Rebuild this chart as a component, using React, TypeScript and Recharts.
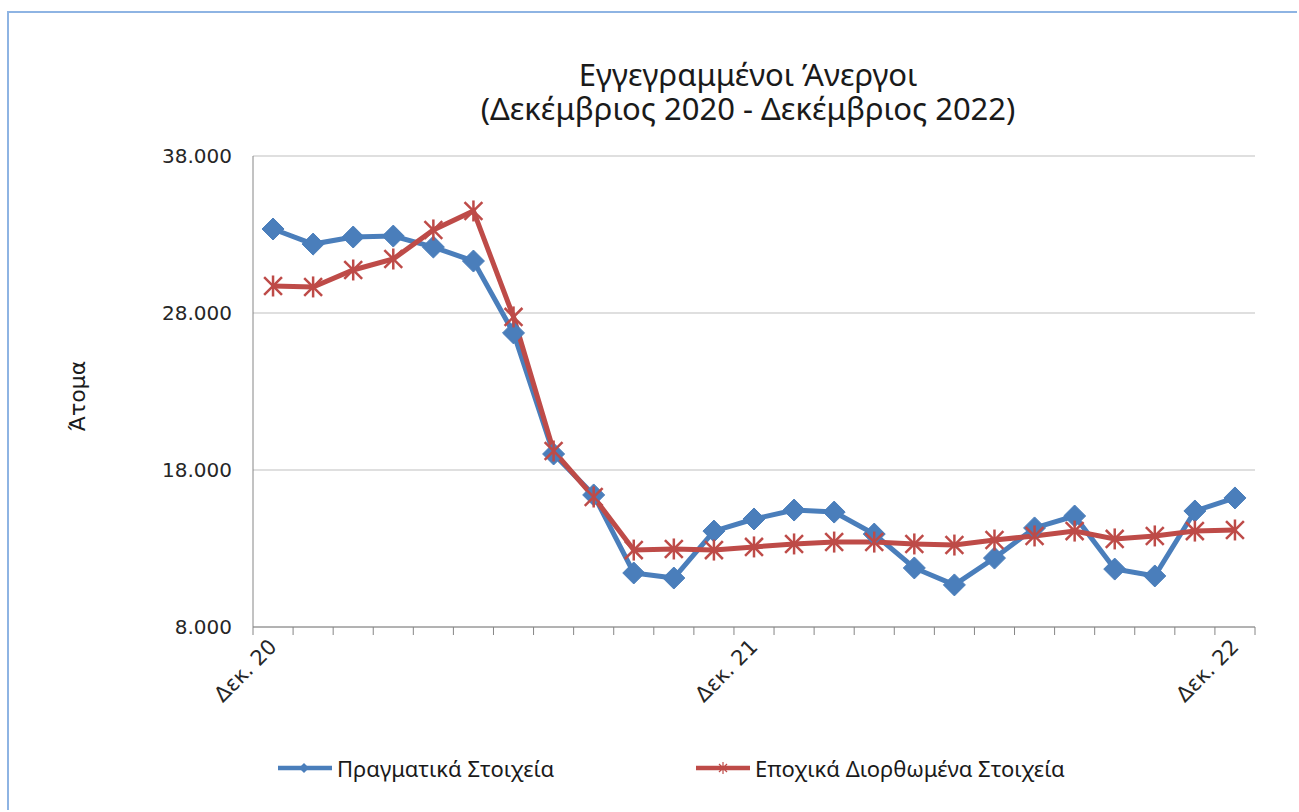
import React from 'react'
import { LineChart, Line, XAxis, YAxis, CartesianGrid } from 'recharts'

const months = [
  'Δεκ. 20', 'Ιαν. 21', 'Φεβ. 21', 'Μαρ. 21', 'Απρ. 21', 'Μαΐ. 21', 'Ιουν. 21',
  'Ιουλ. 21', 'Αυγ. 21', 'Σεπ. 21', 'Οκτ. 21', 'Νοε. 21', 'Δεκ. 21', 'Ιαν. 22',
  'Φεβ. 22', 'Μαρ. 22', 'Απρ. 22', 'Μαΐ. 22', 'Ιουν. 22', 'Ιουλ. 22', 'Αυγ. 22',
  'Σεπ. 22', 'Οκτ. 22', 'Νοε. 22', 'Δεκ. 22',
]

const actual = [
  33350, 32390, 32840, 32900, 32200, 31310, 26730, 19020, 16410, 11440, 11120, 14110,
  14880, 15450, 15320, 13920, 11760, 10680, 12390, 14310, 15070, 11690, 11250, 15390,
  16220,
]

const seasonal = [
  29720, 29660, 30740, 31440, 33290, 34500, 27750, 19210, 16280, 12900, 12970, 12900,
  13100, 13290, 13410, 13410, 13290, 13220, 13540, 13800, 14110, 13610, 13800, 14110,
  14180,
]

const yTicks = [8000, 18000, 28000, 38000]
const labelEvery = 12

const BLUE = '#4A7EBB'
const RED = '#BE4B48'
const TICK_FONT = '"DejaVu Sans", Verdana, sans-serif'
const TEXT_FONT = '"Noto Sans", "Open Sans", sans-serif'

const data = months.map((m, i) => ({
  pos: i + 0.5,
  month: m,
  actual: actual[i],
  seasonal: seasonal[i],
}))

// tick marks sit on category borders, labels on the category centres
const boundaryTicks = months.map((_, i) => i).concat([months.length])
const labelTicks = months.map((_, i) => i).filter(i => i % labelEvery === 0).map(i => i + 0.5)
const xTicks = [...boundaryTicks, ...labelTicks].sort((a, b) => a - b)

const fmt = (v: number) => String(v).replace(/\B(?=(\d{3})+(?!\d))/g, '.')

const XTick = (props: any) => {
  const { x, y, payload } = props
  const v = payload.value
  if (Number.isInteger(v)) {
    return <line x1={x} x2={x} y1={y} y2={y + 8} stroke="#868686" strokeWidth={1} />
  }
  const label = months[Math.round(v - 0.5)]
  return (
    <text
      transform={`translate(${x + 5},${y + 21}) rotate(-45)`}
      textAnchor="end"
      fontFamily={TICK_FONT}
      fontSize={21}
      fill="#262626"
    >
      {label}
    </text>
  )
}

const Diamond = (props: any) => {
  const { cx, cy } = props
  if (cx == null || cy == null) return null
  const r = 11
  return <path d={`M${cx},${cy - r}L${cx + r},${cy}L${cx},${cy + r}L${cx - r},${cy}Z`} fill={BLUE} stroke={BLUE} strokeWidth={1} />
}

const Star = (props: any) => {
  const { cx, cy } = props
  if (cx == null || cy == null) return null
  const r = 10.5
  const d = r * 0.85
  return (
    <g stroke={RED} strokeWidth={2.5} fill="none">
      <line x1={cx} y1={cy - r} x2={cx} y2={cy + r} />
      <line x1={cx - d} y1={cy - d} x2={cx + d} y2={cy + d} />
      <line x1={cx - d} y1={cy + d} x2={cx + d} y2={cy - d} />
    </g>
  )
}

const LegendItem = ({ color, label, marker }: { color: string; label: string; marker: 'diamond' | 'star' }) => (
  <div style={{ display: 'flex', alignItems: 'center' }}>
    <svg width={56} height={20} style={{ marginRight: 4 }}>
      <line x1={1} x2={55} y1={10} y2={10} stroke={color} strokeWidth={4.5} />
      {marker === 'diamond' ? (
        <path d="M27,5L32,10L27,15L22,10Z" fill={color} />
      ) : (
        <g stroke={color} strokeWidth={1.2}>
          <line x1={28} y1={4} x2={28} y2={16} />
          <line x1={24} y1={6} x2={32} y2={14} />
          <line x1={24} y1={14} x2={32} y2={6} />
        </g>
      )}
    </svg>
    <span style={{ fontFamily: TEXT_FONT, fontSize: 22, color: '#1a1a1a' }}>{label}</span>
  </div>
)

export default function App() {
  return (
    <div style={{ position: 'absolute', left: 0, top: 0, width: 1299, height: 812, background: '#fff' }}>
      <div
        style={{
          position: 'absolute',
          left: 7,
          top: 11,
          width: 1290,
          height: 799,
          borderLeft: '2.5px solid #8EB4E3',
          borderTop: '2.5px solid #8EB4E3',
          boxSizing: 'border-box',
        }}
      />
      <div
        style={{
          position: 'absolute',
          left: 248,
          width: 1000,
          top: 57,
          textAlign: 'center',
          fontFamily: TEXT_FONT,
          fontSize: 31,
          lineHeight: '34px',
          color: '#1a1a1a',
        }}
      >
        <div>Εγγεγραμμένοι Άνεργοι</div>
        <div>(Δεκέμβριος 2020 - Δεκέμβριος 2022)</div>
      </div>
      <div
        style={{
          position: 'absolute',
          left: 77,
          top: 396,
          transform: 'translate(-50%, -50%) rotate(-90deg)',
          fontFamily: TICK_FONT,
          fontSize: 22,
          color: '#1a1a1a',
          whiteSpace: 'nowrap',
        }}
      >
        Άτομα
      </div>
      <div style={{ position: 'absolute', left: 277, top: 753 }}>
        <LegendItem color={BLUE} label="Πραγματικά Στοιχεία" marker="diamond" />
      </div>
      <div style={{ position: 'absolute', left: 695, top: 753 }}>
        <LegendItem color={RED} label="Εποχικά Διορθωμένα Στοιχεία" marker="star" />
      </div>
      <div style={{ position: 'absolute', left: 0, top: 0 }}>
        <LineChart width={1299} height={812} data={data} margin={{ top: 156, right: 44, left: 0, bottom: 125 }}>
          <CartesianGrid vertical={false} stroke="#BFBFBF" strokeWidth={1} />
          <XAxis
            type="number"
            dataKey="pos"
            domain={[0, months.length]}
            ticks={xTicks}
            interval={0}
            tickSize={0}
            tickMargin={0}
            tickLine={false}
            tick={<XTick />}
            height={60}
            stroke="#868686"
            allowDecimals
          />
          <YAxis
            domain={[8000, 38000]}
            ticks={yTicks}
            tickFormatter={fmt}
            width={253}
            tickLine={false}
            tickSize={0}
            tickMargin={21}
            stroke="#868686"
            tick={{ fill: '#262626', fontSize: 20, fontFamily: TICK_FONT }}
            interval={0}
          />
          <Line
            type="linear"
            dataKey="actual"
            stroke={BLUE}
            strokeWidth={5}
            dot={<Diamond />}
            activeDot={false}
            isAnimationActive={false}
          />
          <Line
            type="linear"
            dataKey="seasonal"
            stroke={RED}
            strokeWidth={5}
            dot={<Star />}
            activeDot={false}
            isAnimationActive={false}
          />
        </LineChart>
      </div>
    </div>
  )
}
